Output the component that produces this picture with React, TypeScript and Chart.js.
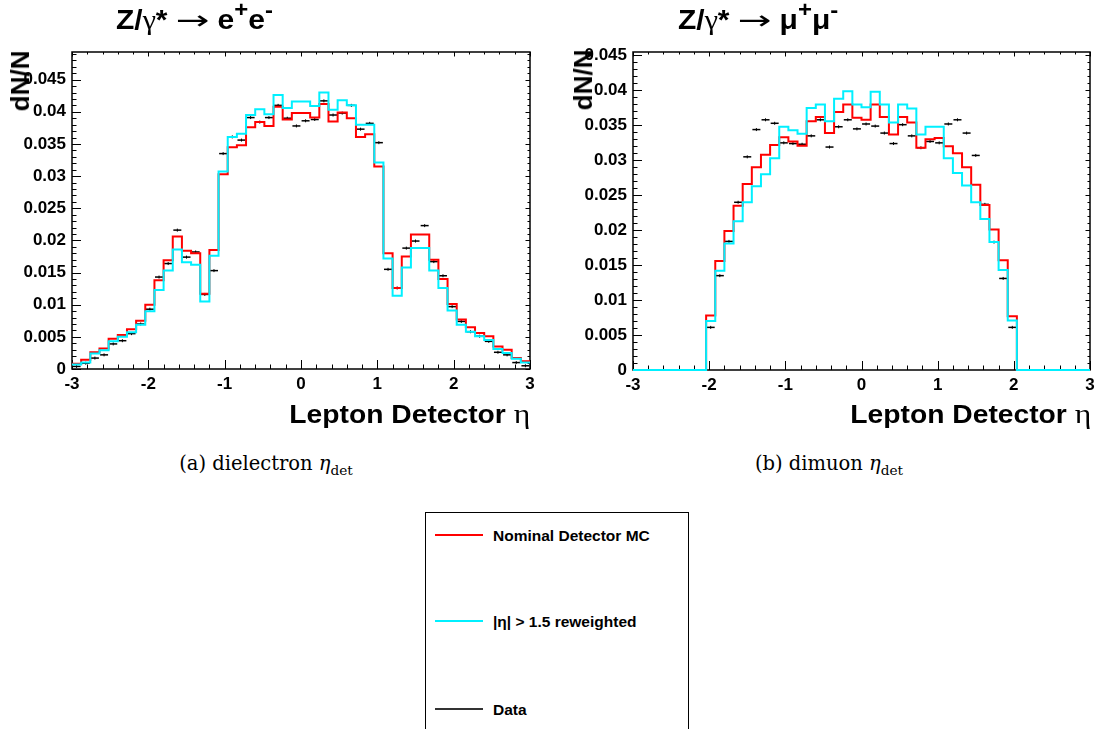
import React, { useEffect, useRef } from "react";
import { Chart, registerables } from "chart.js";

Chart.register(...registerables);

// ---------- binning / axes ----------
const X_MIN = -3;
const X_MAX = 3;
const N_BINS = 50;
const binEdges: number[] = Array.from({ length: N_BINS + 1 }, (_, i) =>
  +(X_MIN + (i * (X_MAX - X_MIN)) / N_BINS).toFixed(3)
);
const xTickValues = [-3, -2, -1, 0, 1, 2, 3];
const xTickLabels = ["-3", "-2", "-1", "0", "1", "2", "3"];
const yTickValues = [0, 0.005, 0.01, 0.015, 0.02, 0.025, 0.03, 0.035, 0.04, 0.045];
const yTickLabels = ["0", "0.005", "0.01", "0.015", "0.02", "0.025", "0.03", "0.035", "0.04", "0.045"];

// ---------- dielectron ----------
const eeNominal = [
  0.0008, 0.00145, 0.0026, 0.0032, 0.0047, 0.0053, 0.0062, 0.0075, 0.01, 0.0138,
  0.0169, 0.0206, 0.0184, 0.018, 0.0117, 0.0185, 0.0303, 0.0345, 0.0348, 0.0376,
  0.0384, 0.0378, 0.0408, 0.0388, 0.0398, 0.0398, 0.0391, 0.0412, 0.0385, 0.0399,
  0.039, 0.0361, 0.0365, 0.0315, 0.018, 0.0126, 0.0175, 0.0209, 0.0209, 0.017,
  0.014, 0.0101, 0.0077, 0.0065, 0.0056, 0.0051, 0.0035, 0.003, 0.0017, 0.0012,
];
const eeReweighted = [
  0.0007, 0.001, 0.0024, 0.0029, 0.0043, 0.005, 0.0057, 0.0069, 0.009, 0.0123,
  0.0153, 0.0186, 0.0166, 0.0162, 0.0105, 0.0176, 0.0307, 0.0361, 0.0366, 0.0395,
  0.0404, 0.0396, 0.0426, 0.0406, 0.0416, 0.0416, 0.0409, 0.043, 0.0403, 0.0418,
  0.041, 0.038, 0.038, 0.0321, 0.0172, 0.0114, 0.0158, 0.0188, 0.0188, 0.0153,
  0.0126, 0.0091, 0.0069, 0.0058, 0.0051, 0.0045, 0.0031, 0.0025, 0.0016, 0.001,
];
const eeData = [
  0.0004, 0.0009, 0.0017, 0.0022, 0.0039, 0.0044, 0.0055, 0.007, 0.0093, 0.0143,
  0.0164, 0.0216, 0.0174, 0.0182, 0.0116, 0.0153, 0.0335, 0.0361, 0.0356, 0.0391,
  0.0384, 0.0391, 0.041, 0.039, 0.0378, 0.0386, 0.0388, 0.0417, 0.0395, 0.0398,
  0.041, 0.0373, 0.0382, 0.0352, 0.0155, 0.0126, 0.0188, 0.0199, 0.0223, 0.0167,
  0.0145, 0.0097, 0.0074, 0.0058, 0.0051, 0.0043, 0.0026, 0.0022, 0.001, 0.0005,
];

// ---------- dimuon ----------
const mmNominal = [
  0, 0, 0, 0, 0, 0, 0, 0, 0.0078, 0.0156,
  0.0199, 0.0235, 0.0266, 0.029, 0.0308, 0.0322, 0.0333, 0.0327, 0.0321, 0.0356,
  0.0362, 0.0339, 0.0369, 0.038, 0.0361, 0.0358, 0.038, 0.0362, 0.0337, 0.0362,
  0.0354, 0.0318, 0.033, 0.0332, 0.032, 0.031, 0.029, 0.0265, 0.0236, 0.0201,
  0.0157, 0.0077, 0, 0, 0, 0, 0, 0, 0, 0,
];
const mmReweighted = [
  0, 0, 0, 0, 0, 0, 0, 0, 0.007, 0.0142,
  0.0181, 0.0213, 0.024, 0.0263, 0.028, 0.0303, 0.0348, 0.0343, 0.0338, 0.0375,
  0.038, 0.0356, 0.0388, 0.0399, 0.038, 0.0376, 0.0398, 0.038, 0.0354, 0.038,
  0.0374, 0.0337, 0.0348, 0.0348, 0.0303, 0.0282, 0.0264, 0.024, 0.0216, 0.0183,
  0.0143, 0.0071, 0, 0, 0, 0, 0, 0, 0, 0,
];
const mmData = [
  0, 0, 0, 0, 0, 0, 0, 0, 0.0061, 0.0135,
  0.0184, 0.024, 0.0305, 0.0344, 0.0358, 0.0353, 0.0325, 0.0324, 0.0323, 0.0335,
  0.0358, 0.0319, 0.0348, 0.0358, 0.0345, 0.0352, 0.0349, 0.0339, 0.0324, 0.0351,
  0.0335, 0.0318, 0.0327, 0.0325, 0.0352, 0.0358, 0.0339, 0.0307, 0.0237, 0.0183,
  0.0131, 0.0061, 0, 0, 0, 0, 0, 0, 0, 0,
];

const legendLabels = ["Nominal Detector MC", "|\u03b7| > 1.5 reweighted", "Data"];
const RED = "#ff0000";
const CYAN = "#00f0ff";
const SANS = "'Liberation Sans', Arial, Helvetica, sans-serif";
const SERIF = "'Liberation Serif', 'Times New Roman', serif";
const CAPTION_SERIF = "'DejaVu Serif', 'Liberation Serif', serif";

function stepPoints(vals: number[]) {
  const pts = vals.map((v, i) => ({ x: binEdges[i], y: v }));
  pts.push({ x: binEdges[N_BINS], y: vals[N_BINS - 1] });
  return pts;
}
function dataPoints(vals: number[]) {
  return vals
    .map((v, i) => ({ x: (binEdges[i] + binEdges[i + 1]) / 2, y: v }))
    .filter((p) => p.y > 0);
}

const framePlugin = {
  id: "rootFrame",
  beforeDatasetsDraw(chart: any) {
    const { ctx, chartArea, scales } = chart;
    const { left, right, top, bottom } = chartArea;
    const x = scales.x;
    const y = scales.y;
    ctx.save();
    ctx.strokeStyle = "#000";
    ctx.lineWidth = 1;
    const seg = (x1: number, y1: number, x2: number, y2: number) => {
      ctx.beginPath();
      ctx.moveTo(x1, y1);
      ctx.lineTo(x2, y2);
      ctx.stroke();
    };
    for (let k = 0; k <= 30; k++) {
      const v = X_MIN + k * 0.2;
      const major = k % 5 === 0;
      const px = Math.round(x.getPixelForValue(v)) + 0.5;
      seg(px, bottom, px, bottom - (major ? 9 : 4.5));
      seg(px, top, px, top + (major ? 4.5 : 2.5));
    }
    const ymax = y.max;
    for (let k = 0; k * 0.001 <= ymax + 1e-9; k++) {
      const v = k * 0.001;
      const major = k % 5 === 0;
      const py = Math.round(y.getPixelForValue(v)) + 0.5;
      seg(left, py, left + (major ? 9 : 4.5), py);
      seg(right, py, right - (major ? 4.5 : 2.5), py);
    }
    ctx.lineWidth = 1.5;
    ctx.strokeRect(left, top, right - left, bottom - top);
    ctx.restore();
  },
};

type PanelProps = {
  left: number;
  width: number;
  height: number;
  padTop: number;
  padRight: number;
  yWidth: number;
  xHeight: number;
  yMax: number;
  nominal: number[];
  reweighted: number[];
  data: number[];
};

function Panel(p: PanelProps) {
  const ref = useRef<HTMLCanvasElement | null>(null);
  useEffect(() => {
    if (!ref.current) return;
    const tickFont = { family: SANS, weight: "bold" as const, size: 17 };
    const chart = new Chart(ref.current, {
      type: "scatter",
      data: {
        datasets: [
          {
            label: legendLabels[1],
            data: stepPoints(p.reweighted),
            showLine: true,
            stepped: "before",
            borderColor: CYAN,
            backgroundColor: CYAN,
            borderWidth: 2,
            pointRadius: 0,
            clip: 3,
            order: 0,
          } as any,
          {
            label: legendLabels[0],
            data: stepPoints(p.nominal),
            showLine: true,
            stepped: "before",
            borderColor: RED,
            backgroundColor: RED,
            borderWidth: 2,
            pointRadius: 0,
            clip: 3,
            order: 1,
          } as any,
          {
            label: legendLabels[2],
            data: dataPoints(p.data),
            showLine: false,
            pointStyle: "line",
            pointRadius: 4,
            pointBorderWidth: 1.5,
            borderColor: "#000",
            backgroundColor: "#000",
            order: 2,
          } as any,
          {
            label: legendLabels[2] + " err",
            data: dataPoints(p.data),
            showLine: false,
            pointStyle: "line",
            rotation: 90,
            pointRadius: 1.5,
            pointBorderWidth: 1,
            borderColor: "#000",
            backgroundColor: "#000",
            order: 3,
          } as any,
        ],
      },
      options: {
        animation: false,
        responsive: false,
        maintainAspectRatio: false,
        events: [],
        layout: { padding: { top: p.padTop, right: p.padRight, bottom: 0, left: 0 } },
        plugins: { legend: { display: false }, tooltip: { enabled: false }, title: { display: false } },
        scales: {
          x: {
            type: "linear",
            min: X_MIN,
            max: X_MAX,
            afterBuildTicks: (s: any) => {
              s.ticks = xTickValues.map((v) => ({ value: v }));
            },
            afterFit: (s: any) => {
              s.height = p.xHeight;
            },
            grid: { display: false, drawTicks: false },
            border: { display: false },
            ticks: {
              font: tickFont,
              color: "#000",
              padding: 5,
              maxRotation: 0,
              autoSkip: false,
              callback: (v: any) => {
                const i = xTickValues.indexOf(Number(v));
                return i >= 0 ? xTickLabels[i] : "";
              },
            },
          },
          y: {
            type: "linear",
            min: 0,
            max: p.yMax,
            afterBuildTicks: (s: any) => {
              s.ticks = yTickValues.map((v) => ({ value: v }));
            },
            afterFit: (s: any) => {
              s.width = p.yWidth;
            },
            grid: { display: false, drawTicks: false },
            border: { display: false },
            ticks: {
              font: tickFont,
              color: "#000",
              padding: 6,
              autoSkip: false,
              callback: (v: any) => {
                const i = yTickValues.findIndex((t) => Math.abs(t - Number(v)) < 1e-9);
                return i >= 0 ? yTickLabels[i] : "";
              },
            },
          },
        },
      },
      plugins: [framePlugin],
    });
    return () => chart.destroy();
  }, []);
  return (
    <canvas
      ref={ref}
      width={p.width}
      height={p.height}
      style={{ position: "absolute", left: p.left, top: 0, width: p.width, height: p.height }}
    />
  );
}

const supStyle: React.CSSProperties = { fontSize: "0.8em", verticalAlign: "0.55em", lineHeight: 0 };

function Title({ left, particle }: { left: number; particle: string }) {
  return (
    <div
      style={{
        position: "absolute",
        left,
        top: 3,
        font: `bold 28px ${SANS}`,
        whiteSpace: "nowrap",
        lineHeight: "34px",
        color: "#000",
        transform: "scaleX(1.07)",
        transformOrigin: "left center",
      }}
    >
      Z/<span style={{ fontFamily: SERIF, fontWeight: "normal" }}>γ</span>*
      <span
        style={{
          display: "inline-block",
          fontFamily: "'DejaVu Sans', sans-serif",
          fontWeight: "normal",
          fontSize: 26,
          transform: "scaleX(1.45)",
          margin: "0 12px 0 13px",
        }}
      >
        →
      </span>
      {particle}
      <sup style={supStyle}>+</sup>
      {particle}
      <sup style={supStyle}>-</sup>
    </div>
  );
}

function XTitle({ right }: { right: number }) {
  return (
    <div
      style={{
        position: "absolute",
        right: 1107 - right,
        top: 399,
        font: `bold 25px ${SANS}`,
        whiteSpace: "nowrap",
        lineHeight: "30px",
        color: "#000",
        transform: "scaleX(1.13)",
        transformOrigin: "right center",
      }}
    >
      Lepton Detector <span style={{ fontFamily: SERIF, fontWeight: "normal", fontSize: 28 }}>η</span>
    </div>
  );
}

function YTitle({ cx, cy }: { cx: number; cy: number }) {
  return (
    <div
      style={{
        position: "absolute",
        left: cx,
        top: cy,
        transform: "translate(-50%, -50%) rotate(-90deg)",
        font: `bold 26px ${SANS}`,
        whiteSpace: "nowrap",
        lineHeight: "26px",
        color: "#000",
      }}
    >
      dN/N
    </div>
  );
}

function Caption({ cx, text }: { cx: number; text: string }) {
  return (
    <div
      style={{
        position: "absolute",
        left: cx,
        top: 451,
        transform: "translateX(-50%)",
        font: `19.5px ${CAPTION_SERIF}`,
        whiteSpace: "nowrap",
        lineHeight: "26px",
        color: "#000",
      }}
    >
      {text} <i>η</i>
      <sub style={{ fontSize: "0.7em", lineHeight: 0 }}>det</sub>
    </div>
  );
}

function Legend() {
  const rows = [
    { label: legendLabels[0], color: RED, y: 535, h: 2 },
    { label: legendLabels[1], color: CYAN, y: 621, h: 2 },
    { label: legendLabels[2], color: "#333", y: 709, h: 2 },
  ];
  return (
    <>
      <div
        style={{
          position: "absolute",
          left: 425,
          top: 512,
          width: 264,
          height: 240,
          border: "1px solid #000",
          boxSizing: "border-box",
        }}
      />
      {rows.map((r) => (
        <React.Fragment key={r.label}>
          <div
            style={{
              position: "absolute",
              left: 435,
              top: r.y - 1,
              width: 48,
              height: r.h,
              background: r.color,
            }}
          />
          <div
            style={{
              position: "absolute",
              left: 493,
              top: r.y - 9,
              font: `bold 15.5px ${SANS}`,
              lineHeight: "20px",
              whiteSpace: "nowrap",
              color: "#000",
            }}
          >
            {r.label}
          </div>
        </React.Fragment>
      ))}
    </>
  );
}

export default function App() {
  return (
    <div
      style={{
        position: "absolute",
        left: 0,
        top: 0,
        width: 1107,
        height: 729,
        overflow: "hidden",
        background: "#fff",
      }}
    >
      <Panel
        left={0}
        width={560}
        height={400}
        padTop={52}
        padRight={30}
        yWidth={72}
        xHeight={31}
        yMax={0.0493}
        nominal={eeNominal}
        reweighted={eeReweighted}
        data={eeData}
      />
      <Panel
        left={560}
        width={547}
        height={400}
        padTop={52}
        padRight={17}
        yWidth={73}
        xHeight={30}
        yMax={0.0455}
        nominal={mmNominal}
        reweighted={mmReweighted}
        data={mmData}
      />
      <Title left={116} particle="e" />
      <Title left={678} particle="μ" />
      <YTitle cx={20} cy={81} />
      <YTitle cx={583} cy={80} />
      <XTitle right={530} />
      <XTitle right={1091} />
      <Caption cx={266} text="(a) dielectron" />
      <Caption cx={829} text="(b) dimuon" />
      <Legend />
    </div>
  );
}
